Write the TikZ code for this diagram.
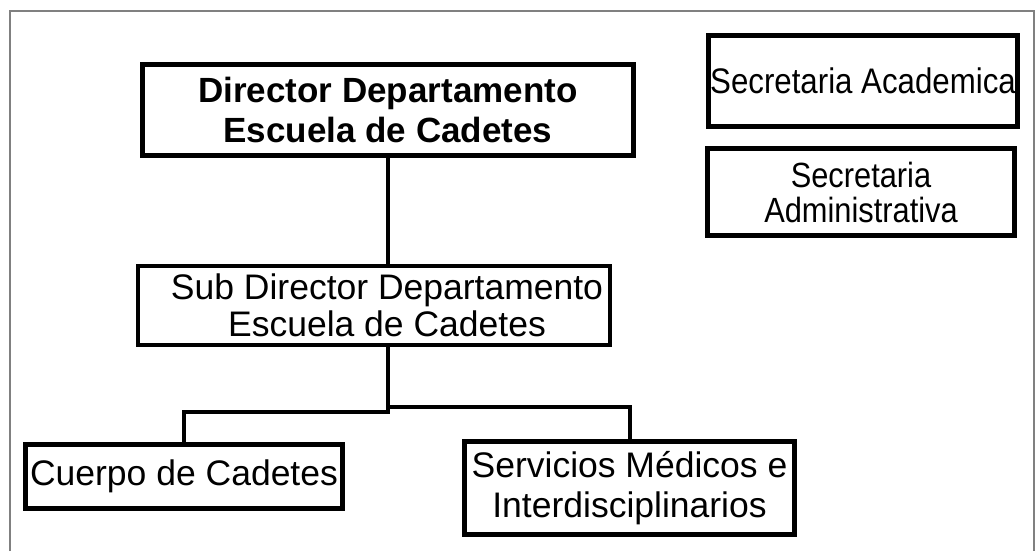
\documentclass[tikz,border=0pt]{standalone}
\usepackage{fontspec}
\setmainfont{Liberation Sans}
\newfontfamily\narrowfont[FakeStretch=0.88]{Liberation Sans}
\usetikzlibrary{positioning,calc}

\begin{document}
\begin{tikzpicture}[x=1pt,y=-1pt,
    box node/.style={rectangle,draw,line width=5pt,inner sep=0pt,align=center,
      font=\fontsize{35.5}{40}\selectfont},
    link/.style={line width=4pt}]
  \useasboundingbox (0,0) rectangle (1035,551);
  \draw[gray,line width=1.5pt] (10,551) -- (10,11) -- (1034,11) -- (1034,551);

  % main chain
  \node[box node,minimum width=491pt,minimum height=91pt,
        font=\fontsize{35}{40}\selectfont\bfseries] (dir) at (388,110)
        {Director Departamento\\Escuela de Cadetes};
  \node[box node,line width=4pt,minimum width=472pt,minimum height=79pt,
        font=\fontsize{35.5}{37}\selectfont] (sub) at (374,305.5)
        {\hspace*{26pt}Sub Director Departamento\\\hspace*{26pt}Escuela de Cadetes};

  % secretarias
  \node[box node,minimum width=309pt,minimum height=91pt,
        font=\fontsize{35.5}{40}\selectfont\narrowfont] (acad) at (863,81)
        {Secretaria Academica};
  \node[box node,minimum width=307pt,minimum height=87pt,
        font=\fontsize{35}{35}\selectfont\narrowfont] (admin) at (861,192)
        {Secretaria\\Administrativa};

  % bottom row
  \node[box node,minimum width=317pt,minimum height=64pt] (cuerpo) at (184,476.5)
        {Cuerpo de Cadetes};
  \node[box node,minimum width=330pt,minimum height=93pt] (serv) at (629.5,488)
        {Servicios M\'edicos e\\Interdisciplinarios};

  \coordinate (split) at (388,412);
  \coordinate (splitR) at (388,407);

  \draw[link] (dir.south) -- (dir.south |- sub.north);
  \draw[link] (dir.south |- sub.south) -- (split) -| (cuerpo.north);
  \draw[link] (splitR) -| (serv.north);
\end{tikzpicture}
\end{document}
